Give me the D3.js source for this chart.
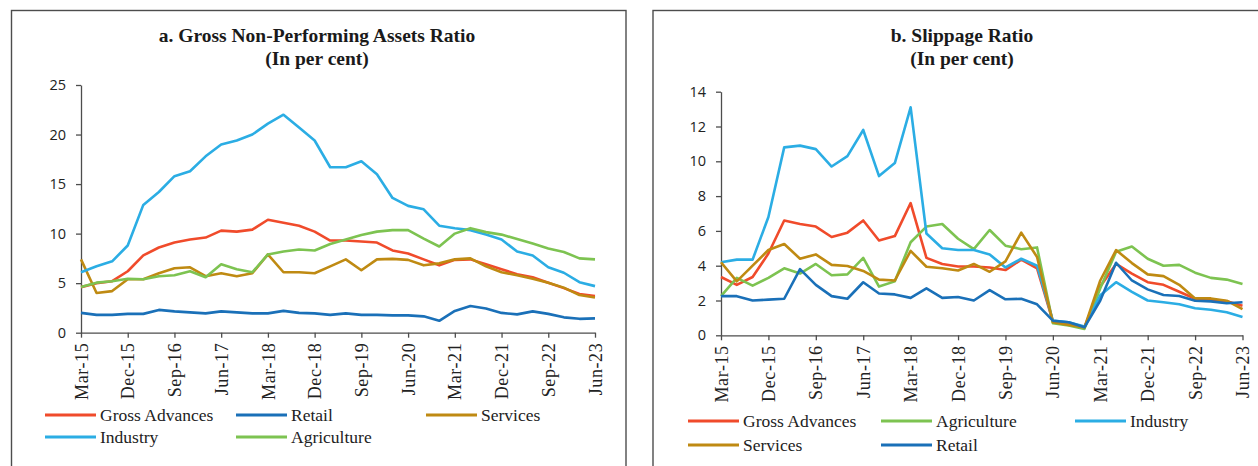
<!DOCTYPE html>
<html>
<head>
<meta charset="utf-8">
<script src="https://cdn.jsdelivr.net/npm/d3@7"></script>
<style>
  html, body { margin: 0; padding: 0; background: #fff; }
  svg { display: block; }
</style>
</head>
<body>
<svg id="chart" width="1258" height="466"></svg>
<script>
// Quarter-end dates, Mar-15 to Jun-23
const quarters = [
  "Mar-15","Jun-15","Sep-15","Dec-15","Mar-16","Jun-16","Sep-16","Dec-16",
  "Mar-17","Jun-17","Sep-17","Dec-17","Mar-18","Jun-18","Sep-18","Dec-18",
  "Mar-19","Jun-19","Sep-19","Dec-19","Mar-20","Jun-20","Sep-20","Dec-20",
  "Mar-21","Jun-21","Sep-21","Dec-21","Mar-22","Jun-22","Sep-22","Dec-22",
  "Mar-23","Jun-23"
];
// Every third quarter carries a label
const xTickLabels = ["Mar-15","Dec-15","Sep-16","Jun-17","Mar-18","Dec-18",
  "Sep-19","Jun-20","Mar-21","Dec-21","Sep-22","Jun-23"];

// a. Gross NPA ratio (per cent)
const gnpaGross = [4.6, 5.0, 5.2, 6.2, 7.8, 8.6, 9.1, 9.4, 9.6, 10.3, 10.2, 10.4, 11.4, 11.1, 10.8, 10.2,
  9.3, 9.3, 9.2, 9.1, 8.3, 8.0, 7.4, 6.8, 7.35, 7.4, 6.9, 6.4, 5.9, 5.6, 5.05, 4.5, 3.9, 3.7];
const gnpaRetail = [2.0, 1.8, 1.8, 1.9, 1.9, 2.3, 2.15, 2.05, 1.95, 2.15, 2.05, 1.95, 1.95, 2.2, 2.0, 1.95,
  1.8, 1.95, 1.8, 1.8, 1.75, 1.75, 1.65, 1.2, 2.2, 2.7, 2.45, 2.0, 1.85, 2.15, 1.9, 1.55, 1.4, 1.45];
const gnpaServices = [7.4, 4.0, 4.2, 5.4, 5.4, 6.0, 6.5, 6.6, 5.7, 6.0, 5.7, 6.0, 7.9, 6.1, 6.1, 6.0,
  6.7, 7.4, 6.3, 7.4, 7.45, 7.35, 6.8, 7.0, 7.4, 7.5, 6.7, 6.1, 5.8, 5.45, 5.05, 4.55, 3.8, 3.55];
const gnpaIndustry = [6.1, 6.7, 7.2, 8.8, 12.9, 14.2, 15.8, 16.3, 17.8, 19.0, 19.4, 20.0, 21.1, 22.0, 20.7, 19.4,
  16.7, 16.7, 17.3, 16.0, 13.6, 12.8, 12.45, 10.8, 10.55, 10.35, 9.9, 9.4, 8.2, 7.8, 6.6, 6.05, 5.1, 4.7];
const gnpaAgriculture = [4.6, 5.05, 5.2, 5.45, 5.4, 5.7, 5.8, 6.2, 5.6, 6.9, 6.4, 6.1, 7.9, 8.2, 8.4, 8.3,
  8.95, 9.4, 9.85, 10.2, 10.35, 10.35, 9.5, 8.7, 10.0, 10.55, 10.15, 9.9, 9.45, 9.0, 8.5, 8.15, 7.5, 7.4];
const gnpaTicks = [0, 5, 10, 15, 20, 25];

// b. Slippage ratio (per cent)
const slipGross = [3.35, 2.9, 3.35, 4.7, 6.6, 6.4, 6.25, 5.65, 5.9, 6.6, 5.45, 5.7, 7.6, 4.45, 4.1, 3.95,
  3.95, 3.9, 3.75, 4.35, 3.85, 0.8, 0.7, 0.45, 2.8, 4.1, 3.55, 3.05, 2.9, 2.5, 2.1, 2.05, 1.95, 1.7];
const slipAgriculture = [2.25, 3.3, 2.85, 3.3, 3.85, 3.55, 4.1, 3.45, 3.5, 4.45, 2.8, 3.1, 5.35, 6.25, 6.4, 5.55,
  4.95, 6.05, 5.15, 4.95, 5.05, 0.7, 0.57, 0.37, 2.7, 4.8, 5.1, 4.4, 4.0, 4.05, 3.6, 3.3, 3.2, 2.95];
const slipIndustry = [4.2, 4.35, 4.35, 6.8, 10.8, 10.9, 10.7, 9.7, 10.3, 11.8, 9.15, 9.9, 13.1, 5.85, 5.0, 4.9,
  4.9, 4.65, 3.9, 4.4, 4.0, 0.85, 0.75, 0.5, 2.3, 3.05, 2.5, 2.0, 1.9, 1.78, 1.55, 1.47, 1.32, 1.05];
const slipServices = [4.2, 3.1, 4.0, 4.9, 5.25, 4.4, 4.65, 4.05, 3.98, 3.7, 3.2, 3.15, 4.85, 3.94, 3.85, 3.72,
  4.1, 3.65, 4.25, 5.9, 4.5, 0.75, 0.6, 0.45, 3.15, 4.9, 4.15, 3.5, 3.4, 2.9, 2.12, 2.12, 1.99, 1.5];
const slipRetail = [2.25, 2.25, 2.0, 2.05, 2.1, 3.8, 2.9, 2.25, 2.1, 3.05, 2.4, 2.35, 2.15, 2.7, 2.15, 2.2,
  2.0, 2.6, 2.07, 2.1, 1.78, 0.84, 0.75, 0.46, 2.0, 4.17, 3.15, 2.64, 2.32, 2.26, 1.99, 1.95, 1.84, 1.9];
const slipTicks = [0, 2, 4, 6, 8, 10, 12, 14];

const COLORS = {
  "Gross Advances": "#f04b2b",
  "Retail": "#1a70b8",
  "Services": "#bf8a12",
  "Industry": "#2badE4",
  "Agriculture": "#7dc351"
};

const panels = [
  {
    title: "a. Gross Non-Performing Assets Ratio",
    frame: { x: 11.5, y: 10.5, w: 614.5, h: 480 },
    titleX: 317,
    plot: { left: 81, right: 595, top: 85, bottom: 332.7 },
    yMax: 25, yTicks: gnpaTicks,
    series: [
      { name: "Gross Advances", values: gnpaGross },
      { name: "Retail", values: gnpaRetail },
      { name: "Services", values: gnpaServices },
      { name: "Industry", values: gnpaIndustry },
      { name: "Agriculture", values: gnpaAgriculture }
    ],
    legendCols: [45, 236, 426],
    legendRows: [415, 437]
  },
  {
    title: "b. Slippage Ratio",
    frame: { x: 653, y: 10.5, w: 700, h: 480 },
    titleX: 962,
    plot: { left: 721, right: 1242.5, top: 91.7, bottom: 335.3 },
    yMax: 14, yTicks: slipTicks,
    series: [
      { name: "Gross Advances", values: slipGross },
      { name: "Agriculture", values: slipAgriculture },
      { name: "Industry", values: slipIndustry },
      { name: "Services", values: slipServices },
      { name: "Retail", values: slipRetail }
    ],
    legendCols: [688, 881, 1075],
    legendRows: [421, 445]
  }
];

const svg = d3.select("#chart");
svg.append("rect").attr("width", 1258).attr("height", 466).attr("fill", "#fff");

const serif = "'Liberation Serif', 'Times New Roman', serif";
const sans = "'Open Sans', 'Noto Sans', sans-serif";

panels.forEach(p => {
  const g = svg.append("g");

  // panel border
  g.append("rect")
    .attr("x", p.frame.x).attr("y", p.frame.y)
    .attr("width", p.frame.w).attr("height", p.frame.h)
    .attr("fill", "none").attr("stroke", "#4d4d4d").attr("stroke-width", 1.4);

  // title, two lines
  const t = g.append("text")
    .attr("text-anchor", "middle")
    .attr("font-family", serif).attr("font-weight", "bold")
    .attr("font-size", 19.5).attr("fill", "#1a1a1a");
  t.append("tspan").attr("x", p.titleX).attr("y", 42).text(p.title);
  t.append("tspan").attr("x", p.titleX).attr("y", 65).text("(In per cent)");

  const x = d3.scalePoint().domain(quarters).range([p.plot.left, p.plot.right]).padding(0);
  const y = d3.scaleLinear().domain([0, p.yMax]).range([p.plot.bottom, p.plot.top]);

  // y axis
  const ya = g.append("g")
    .attr("transform", `translate(${p.plot.left},0)`)
    .call(d3.axisLeft(y).tickValues(p.yTicks).tickSize(5).tickSizeOuter(0).tickPadding(10));
  ya.select(".domain").attr("stroke", "#4d4d4d").attr("stroke-width", 1.3);
  ya.selectAll(".tick line").attr("stroke", "#4d4d4d").attr("stroke-width", 1.3);
  ya.selectAll(".tick text")
    .attr("font-family", sans).attr("font-size", 14.5).attr("fill", "#222");

  // x axis with vertical labels
  const xa = g.append("g")
    .attr("transform", `translate(0,${p.plot.bottom})`)
    .call(d3.axisBottom(x).tickValues(xTickLabels).tickSize(5).tickSizeOuter(0));
  xa.select(".domain").attr("stroke", "#4d4d4d").attr("stroke-width", 1.3);
  xa.selectAll(".tick line").attr("stroke", "#4d4d4d").attr("stroke-width", 1.3);
  xa.selectAll(".tick text")
    .attr("font-family", serif).attr("font-size", 18).attr("fill", "#222")
    .attr("letter-spacing", "0.6px")
    .attr("transform", "rotate(-90)")
    .attr("text-anchor", "end")
    .attr("x", -10).attr("y", 0).attr("dy", "0.34em");

  // series lines
  const line = d3.line()
    .x((d, i) => x(quarters[i]))
    .y(d => y(d));
  g.append("g").selectAll("path")
    .data(p.series)
    .join("path")
    .attr("d", s => line(s.values))
    .attr("fill", "none")
    .attr("stroke", s => COLORS[s.name])
    .attr("stroke-width", 2.6)
    .attr("stroke-linejoin", "round")
    .attr("stroke-linecap", "butt");

  // legend, three per row
  const lg = g.append("g");
  p.series.forEach((s, i) => {
    const cx = p.legendCols[i % 3];
    const cy = p.legendRows[Math.floor(i / 3)];
    lg.append("line")
      .attr("x1", cx).attr("x2", cx + 51)
      .attr("y1", cy).attr("y2", cy)
      .attr("stroke", COLORS[s.name]).attr("stroke-width", 3);
    lg.append("text")
      .attr("x", cx + 55).attr("y", cy).attr("dy", "0.33em")
      .attr("font-family", serif).attr("font-size", 17.5).attr("fill", "#222")
      .text(s.name);
  });
});
</script>
</body>
</html>
